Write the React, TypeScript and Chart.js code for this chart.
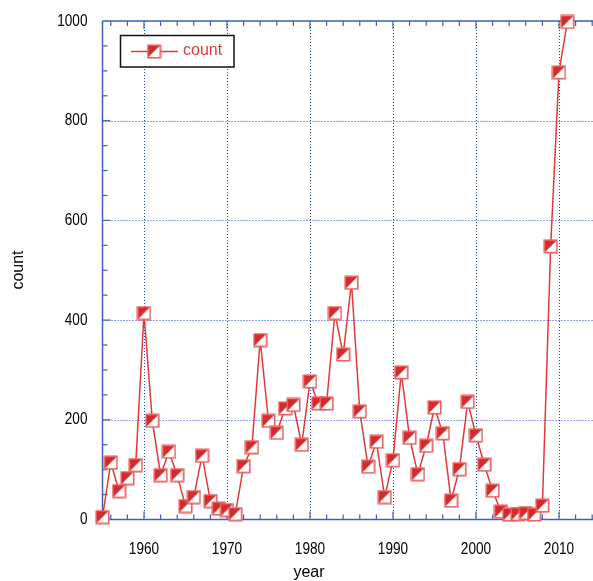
import React, { useEffect, useRef } from 'react';
import { Chart, registerables } from 'chart.js';
Chart.register(...registerables);

const years = [1955,1956,1957,1958,1959,1960,1961,1962,1963,1964,1965,1966,1967,1968,1969,1970,1971,1972,1973,1974,1975,1976,1977,1978,1979,1980,1981,1982,1983,1984,1985,1986,1987,1988,1989,1990,1991,1992,1993,1994,1995,1996,1997,1998,1999,2000,2001,2002,2003,2004,2005,2006,2007,2008,2009,2010,2011];
const counts = [5,114,57,83,109,414,198,89,136,89,27,45,128,37,22,19,11,107,145,360,198,174,223,230,150,277,233,233,414,331,475,217,106,156,45,119,295,164,91,148,225,173,38,101,236,169,110,58,16,10,11,13,10,28,548,897,998];
const xTicks = [1960, 1970, 1980, 1990, 2000, 2010];
const yTicks = [0, 200, 400, 600, 800, 1000];
const seriesName = 'count';
const xTitle = 'year';
const yTitle = 'count';

const AXIS = '#3f5fb5';
const GRID = '#2040c8';
const RED = '#e03a3a';
const FONT = '"Liberation Sans", Arial, sans-serif';

function makeMarker(): HTMLCanvasElement {
  const c = document.createElement('canvas');
  c.width = 15; c.height = 15;
  const g = c.getContext('2d')!;
  g.fillStyle = '#ffffff';
  g.fillRect(1, 1, 13, 13);
  g.fillStyle = '#d42a2a';
  g.beginPath();
  g.moveTo(1, 1); g.lineTo(14, 1); g.lineTo(1, 14); g.closePath();
  g.fill();
  g.strokeStyle = '#e86262';
  g.lineWidth = 1.6;
  g.strokeRect(1.25, 1.25, 12.5, 12.5);
  return c;
}

function narrowText(ctx: CanvasRenderingContext2D, text: string, x: number, y: number, align: CanvasTextAlign) {
  ctx.save();
  ctx.translate(x, y);
  ctx.scale(0.8, 1);
  ctx.textAlign = align;
  ctx.textBaseline = 'middle';
  ctx.fillText(text, 0, 0);
  ctx.restore();
}

export default function App() {
  const ref = useRef<HTMLCanvasElement | null>(null);
  useEffect(() => {
    document.body.style.margin = '0';
    const marker = makeMarker();
    const axesPlugin = {
      id: 'customAxes',
      beforeDatasetsDraw(chart: any) {
        const { ctx, chartArea: a, scales } = chart;
        const xs = scales.x, ys = scales.y;
        ctx.save();
        // dotted grid
        ctx.strokeStyle = GRID;
        ctx.lineWidth = 1;
        ctx.setLineDash([1, 2]);
        xTicks.forEach((v) => {
          const px = Math.round(xs.getPixelForValue(v)) + 0.5;
          ctx.beginPath(); ctx.moveTo(px, a.top); ctx.lineTo(px, a.bottom); ctx.stroke();
        });
        yTicks.forEach((v) => {
          if (v === 0 || v === 1000) return;
          const py = Math.round(ys.getPixelForValue(v)) + 0.5;
          ctx.beginPath(); ctx.moveTo(a.left, py); ctx.lineTo(a.right, py); ctx.stroke();
        });
        ctx.setLineDash([]);
        // axes
        ctx.strokeStyle = AXIS;
        ctx.lineWidth = 1.5;
        ctx.beginPath();
        ctx.moveTo(a.left, a.top); ctx.lineTo(a.right, a.top);
        ctx.moveTo(a.left, a.bottom); ctx.lineTo(a.right, a.bottom);
        ctx.moveTo(a.left, a.top); ctx.lineTo(a.left, a.bottom);
        ctx.stroke();
        // x ticks (every 2 years)
        ctx.lineWidth = 1.2;
        for (let yr = 1956; yr <= 2016; yr += 2) {
          const px = xs.getPixelForValue(yr);
          if (px > a.right) break;
          const major = yr % 10 === 0;
          const len = major ? 8 : 5;
          ctx.beginPath();
          ctx.moveTo(px, a.bottom); ctx.lineTo(px, a.bottom - len);
          ctx.moveTo(px, a.top); ctx.lineTo(px, a.top + len);
          ctx.stroke();
        }
        // y ticks (every 50)
        for (let v = 50; v < 1000; v += 50) {
          const py = ys.getPixelForValue(v);
          const len = v % 200 === 0 ? 8 : 5;
          ctx.beginPath();
          ctx.moveTo(a.left, py); ctx.lineTo(a.left + len, py);
          ctx.stroke();
        }
        // tick labels
        ctx.fillStyle = '#000';
        ctx.font = '17px ' + FONT;
        xTicks.forEach((v) => narrowText(ctx, String(v), xs.getPixelForValue(v), a.bottom + 30, 'center'));
        yTicks.forEach((v) => narrowText(ctx, String(v), a.left - 15, ys.getPixelForValue(v), 'right'));
        // axis titles
        ctx.font = '16px ' + FONT;
        ctx.textAlign = 'center';
        ctx.textBaseline = 'middle';
        ctx.fillText(xTitle, 309, 573);
        ctx.translate(19, 270);
        ctx.rotate(-Math.PI / 2);
        ctx.fillText(yTitle, 0, 0);
        ctx.restore();
      },
      afterDraw(chart: any) {
        const { ctx } = chart;
        ctx.save();
        ctx.fillStyle = '#fff';
        ctx.fillRect(120, 35, 114, 32);
        ctx.strokeStyle = '#111';
        ctx.lineWidth = 1.5;
        ctx.strokeRect(120.5, 35.5, 113.5, 31.5);
        ctx.strokeStyle = RED;
        ctx.lineWidth = 1.5;
        ctx.beginPath(); ctx.moveTo(131, 51.5); ctx.lineTo(178, 51.5); ctx.stroke();
        ctx.drawImage(marker, 154 - 7.5, 51.5 - 7.5);
        ctx.fillStyle = RED;
        ctx.font = '16px ' + FONT;
        ctx.textAlign = 'left';
        ctx.textBaseline = 'middle';
        ctx.fillText(seriesName, 183, 51);
        ctx.restore();
      },
    };
    const chart = new Chart(ref.current!, {
      type: 'line',
      data: {
        datasets: [{
          label: seriesName,
          data: years.map((y, i) => ({ x: y, y: counts[i] })),
          borderColor: RED,
          borderWidth: 1.5,
          pointStyle: marker as any,
          pointRadius: 7,
          tension: 0,
          clip: false as any,
        }],
      },
      options: {
        responsive: false,
        animation: false,
        layout: { autoPadding: false, padding: { top: 21, left: 0, right: 0, bottom: 0 } },
        plugins: { legend: { display: false }, tooltip: { enabled: false } },
        scales: {
          x: {
            type: 'linear',
            min: 1955,
            max: 2014.1,
            afterBuildTicks: (s: any) => { s.ticks = xTicks.map((v) => ({ value: v })); },
            afterFit: (s: any) => { s.height = 61.5; s.paddingLeft = 0; s.paddingRight = 0; },
            grid: { display: false, drawTicks: false },
            border: { display: false },
            ticks: { display: false },
          },
          y: {
            type: 'linear',
            min: 0,
            max: 1000,
            afterBuildTicks: (s: any) => { s.ticks = yTicks.map((v) => ({ value: v })); },
            afterFit: (s: any) => { s.width = 102.5; s.paddingTop = 0; s.paddingBottom = 0; },
            grid: { display: false, drawTicks: false },
            border: { display: false },
            ticks: { display: false },
          },
        },
      },
      plugins: [axesPlugin],
    });
    return () => chart.destroy();
  }, []);
  return <canvas ref={ref} width={593} height={581} style={{ display: 'block' }} />;
}
